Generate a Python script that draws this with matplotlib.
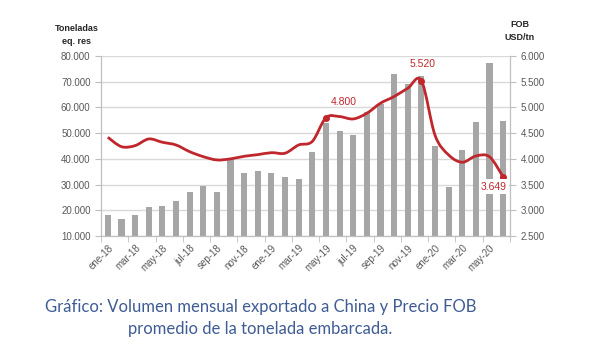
import matplotlib
matplotlib.use("Agg")
import matplotlib.pyplot as plt
from matplotlib.path import Path
from matplotlib.patches import PathPatch
import numpy as np

# --- datos ---
meses = ["ene-18", "feb-18", "mar-18", "abr-18", "may-18", "jun-18", "jul-18", "ago-18",
         "sep-18", "oct-18", "nov-18", "dic-18", "ene-19", "feb-19", "mar-19", "abr-19",
         "may-19", "jun-19", "jul-19", "ago-19", "sep-19", "oct-19", "nov-19", "dic-19",
         "ene-20", "feb-20", "mar-20", "abr-20", "may-20", "jun-20"]
volumen = [18200, 16700, 18000, 21100, 21700, 23500, 27000, 29300,
           27100, 40000, 34500, 35200, 34500, 32800, 32100, 42600,
           54000, 51000, 49400, 58400, 61300, 73000, 69100, 72300,
           45000, 28900, 43500, 54400, 77100, 54700]
precio_fob = [4420, 4237, 4257, 4387, 4323, 4270, 4140, 4043,
              3979, 4000, 4050, 4082, 4120, 4110, 4270, 4340,
              4800, 4822, 4776, 4887, 5082, 5212, 5373, 5520,
              4460, 4076, 3934, 4056, 4040, 3649]
destacados = {16: "4.800", 23: "5.520", 29: "3.649"}

gris_txt = "#595959"
rojo = "#c0272d"
fuente = "Liberation Sans"

fig = plt.figure(figsize=(5.99, 3.58), dpi=100)
ax = fig.add_axes([101 / 599, 1 - 236 / 358, 409 / 599, 180 / 358])
ax2 = ax.twinx()

x = np.arange(len(meses))
ax.bar(x, volumen, width=0.45, color="#a6a6a6", zorder=2)

ax.set_xlim(-0.5, len(meses) - 0.5)
ax.set_ylim(10000, 80000)
ax.set_yticks(range(10000, 80001, 10000))
ax.set_yticklabels([f"{v:,}".replace(",", ".") for v in range(10000, 80001, 10000)],
                   family=fuente)
ax.grid(axis="y", color="#d9d9d9", linewidth=1, zorder=0)
ax.set_axisbelow(True)

ax.set_xticks(x[::2])
ax.set_xticklabels(meses[::2], rotation=45, ha="right", va="top",
                   rotation_mode="anchor", fontsize=7, color=gris_txt, family=fuente)
ax.set_xticks(np.arange(-0.5, len(meses), 2), minor=True)
ax.tick_params(axis="x", which="major", length=0, pad=5)
ax.tick_params(axis="x", which="minor", length=4, color="#bfbfbf")
ax.tick_params(axis="y", labelsize=7, colors=gris_txt, length=4, color="#bfbfbf")

ax2.set_ylim(2500, 6000)
ax2.set_yticks(range(2500, 6001, 500))
ax2.set_yticklabels([f"{v:,}".replace(",", ".") for v in range(2500, 6001, 500)],
                    family=fuente)
ax2.tick_params(axis="y", labelsize=7, colors=gris_txt, length=4, color="#bfbfbf")

for a in (ax, ax2):
    a.spines["top"].set_visible(False)
    for s in ("left", "right", "bottom"):
        a.spines[s].set_color("#bfbfbf")

# línea suavizada (estilo Excel) mediante curvas Bezier entre los puntos
pts = np.column_stack([x, precio_fob]).astype(float)
verts = [tuple(pts[0])]
codes = [Path.MOVETO]
t = 1 / 6
for i in range(len(pts) - 1):
    p0 = pts[max(i - 1, 0)]
    p1 = pts[i]
    p2 = pts[i + 1]
    p3 = pts[min(i + 2, len(pts) - 1)]
    verts += [tuple(p1 + (p2 - p0) * t), tuple(p2 - (p3 - p1) * t), tuple(p2)]
    codes += [Path.CURVE4] * 3
ax2.add_patch(PathPatch(Path(verts, codes), facecolor="none", edgecolor=rojo,
                        linewidth=2, zorder=3))

idx = list(destacados.keys())
ax2.plot(idx, [precio_fob[i] for i in idx], "o", color=rojo, markersize=4, zorder=4)
ax2.text(17.3, 4800 + 210, destacados[16], color=rojo, fontsize=7.5, family=fuente,
         ha="center", va="bottom")
ax2.text(23.1, 5520 + 220, destacados[23], color=rojo, fontsize=7.5, family=fuente,
         ha="center", va="bottom")
ax2.text(28.3, 3649 - 90, destacados[29], color=rojo, fontsize=7.5, family=fuente,
         ha="center", va="top",
         bbox=dict(facecolor="white", edgecolor="none", pad=1.5), zorder=5)

fig.text(76.5 / 599, 1 - 35 / 358, "Toneladas\neq. res", ha="center", va="center",
         fontsize=6.5, fontweight="bold", color="#262626", linespacing=1.5, family=fuente)
fig.text(520 / 599, 1 - 31 / 358, "FOB\nUSD/tn", ha="center", va="center",
         fontsize=6.5, fontweight="bold", color="#262626", linespacing=1.5, family=fuente)

fig.text(260.5 / 599, 1 - 318 / 358,
         "Gráfico: Volumen mensual exportado a China y Precio FOB\npromedio de la tonelada embarcada.",
         ha="center", va="center", fontsize=12.0, family="Lato", color="#3f5c94",
         linespacing=1.5)

fig.savefig("out.png", dpi=100)
